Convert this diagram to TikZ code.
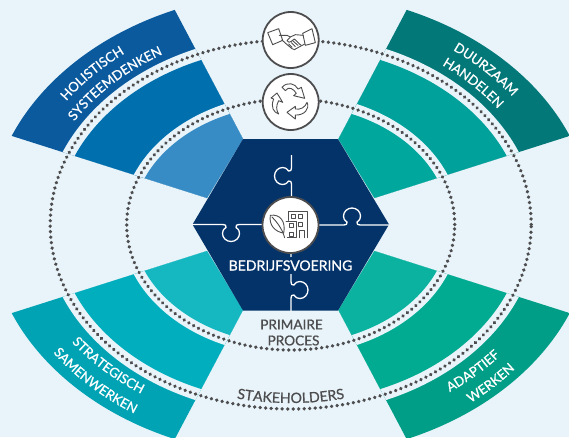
\documentclass[tikz,border=0pt]{standalone}
\usepackage{fontspec}
\setmainfont{Lato}
\newfontfamily\medf[FakeBold=0.8]{Lato}
\usetikzlibrary{decorations.text}
\definecolor{bg}{HTML}{E8F4F9}
\definecolor{hexc}{HTML}{04336A}
\definecolor{grayc}{HTML}{4D4D4F}
\definecolor{tlA}{HTML}{0B5A9E}\definecolor{tlB}{HTML}{006FAE}\definecolor{tlC}{HTML}{378CC6}
\definecolor{trA}{HTML}{027878}\definecolor{trB}{HTML}{00A19A}\definecolor{trC}{HTML}{00A79D}
\definecolor{blA}{HTML}{00A3B4}\definecolor{blB}{HTML}{00AEBD}\definecolor{blC}{HTML}{15B8C1}
\definecolor{brA}{HTML}{009E87}\definecolor{brB}{HTML}{00AB92}\definecolor{brC}{HTML}{0AB29F}
\newcommand\labfont{\medf\fontsize{13.2}{14}\selectfont\color{white}}
\newcommand\grayfont{\medf\fontsize{14.2}{15}\selectfont\color{grayc}}
\tikzset{
  dotted ring/.style={draw=grayc,line width=3.7pt,line cap=round,dash pattern=on 0.01pt off 5.5pt},
  icon circle/.style={draw=grayc,fill=white,line width=1.8pt},
  icon line/.style={draw=grayc,line width=.9pt,line join=round,line cap=round},
  puzzle/.style={draw=white,line width=1.3pt,line join=round},
  gray label/.style={text=grayc,font=\medf\fontsize{13.6}{14}\selectfont,inner sep=0pt,align=center},
}
\newcommand\sector[5]{%
  \begin{scope}[shift={(290.7,224.5)}]
  \clip ({#1*(-47.7)},{#2*(-85.5)}) -- ({#1*(-127)},{#2*(-235.5)}) -- ({#1*(-330)},{#2*(-260)})
     -- ({#1*(-317.7)},{#2*(-100.9)}) -- ({#1*(-83.7)},{#2*(-26.5)}) -- cycle;
  \fill[#3] (0,0) ellipse [x radius=301.7pt,y radius=232.4pt];
  \fill[bg] (0,0) ellipse [x radius=246.6pt,y radius=190.3pt];
  \fill[#4] (0,0) ellipse [x radius=234pt,y radius=178pt];
  \fill[bg] (0,0) ellipse [x radius=169.6pt,y radius=130.8pt];
  \fill[#5] (0,0) ellipse [x radius=158.4pt,y radius=119.7pt];
  \end{scope}}
\newcommand\arclabel[6]{%
  \path[decorate,decoration={text along path,text align=center,text={|#6|#5}}]
    ({290.7+#1*cos(#3)},{224.5+#2*sin(#3)})
    arc [start angle={-(#3)},end angle={-(#4)},x radius=#1pt,y radius=#2pt];}
\newcommand\seam[5]{%
  \draw[puzzle,shift={(#1,#2)},rotate=#3]
    (-#4,0) -- (-9,0) .. controls (-6,0) and (-4,1) .. (-5,3)
    .. controls (-8,5) and (-8.5,7) .. (-8.5,9)
    .. controls (-8.5,13.5) and (-4.5,17) .. (0,17)
    .. controls (4.5,17) and (8.5,13.5) .. (8.5,9)
    .. controls (8.5,7) and (8,5) .. (5,3)
    .. controls (4,1) and (6,0) .. (9,0) -- (#5,0);}
\begin{document}
\begin{tikzpicture}[x=1pt,y=-1pt]
\useasboundingbox (0,0) rectangle (569,437);
\fill[bg] (0,0) rectangle (569,437);
\sector{1}{1}{tlA}{tlB}{tlC}
\sector{-1}{1}{trA}{trB}{trC}
\sector{1}{-1}{blA}{blB}{blC}
\sector{-1}{-1}{brA}{brB}{brC}
\path[dotted ring] (290.7,224.5) ellipse [x radius=240.5pt,y radius=184.5pt];
\path[dotted ring] (290.7,224.5) ellipse [x radius=164pt,y radius=125.5pt];
\fill[hexc] (192.5,224.5) -- (243,139) -- (338,139) -- (389,224.5) -- (338,310.5) -- (243,310.5) -- cycle;
\seam{291.5}{176}{-90}{21}{37}
\seam{231}{224.5}{0}{39}{32}
\seam{352}{225}{180}{37}{34}
\seam{291}{290}{90}{21}{37}
\node[icon circle,circle,minimum size=56pt,inner sep=0pt] (top) at (290.7,40) {};
\node[icon circle,circle,minimum size=56pt,inner sep=0pt] (mid) at (290.7,102) {};
\node[icon circle,circle,minimum size=56pt,inner sep=0pt] (core) at (290.5,225) {};
\begin{scope}[shift={(262,12)},x=.3333pt,y=-.3333pt]
\draw[icon line] (17,62) -- (50,50) -- (62,85) -- (32,98) -- cycle;
\draw[icon line] (122,64) -- (150,50) -- (160,92) -- (130,100) -- cycle;
\draw[icon line] (52,70) -- (75,70) -- (85,75) -- (100,68) -- (124,70);
\draw[icon line] (60,84) -- (72,95) -- (90,110) .. controls (95,115) and (100,113) .. (104,109) -- (128,96);
\draw[icon line] (85,75) -- (75,86) .. controls (78,92) and (84,92) .. (88,88) -- (97,81) -- (117,100);
\draw[icon line] (80,96) -- (90,106) (88,92) -- (100,104) (93,87) -- (108,100);
\end{scope}
\begin{scope}[shift={(262,74)},x=.3333pt,y=-.3333pt]
\draw[icon line] (60,40) .. controls (75,22) and (100,28) .. (108,45) -- (118,40) -- (128,73) -- (95,65) -- (103,58) .. controls (95,45) and (80,35) .. (70,50) -- cycle;
\draw[icon line] (45,57) -- (62,85) -- (50,80) .. controls (42,95) and (42,108) .. (50,120) .. controls (35,115) and (25,100) .. (35,75) -- (27,72) -- cycle;
\draw[icon line] (75,115) -- (100,97) -- (100,105) .. controls (115,108) and (130,100) .. (135,85) .. controls (145,105) and (125,125) .. (100,123) -- (100,135) -- cycle;
\end{scope}
\begin{scope}[shift={(262,197)},x=.3333pt,y=-.3333pt]
\draw[icon line] (25,55) .. controls (55,50) and (72,75) .. (65,108) .. controls (40,105) and (20,85) .. (25,55);
\draw[icon line] (30,60) .. controls (45,75) and (55,90) .. (62,105) (62,105) -- (68,122);
\draw[icon line] (80,70) -- (80,43) -- (136,43) -- (136,122);
\draw[icon line] (72,73) -- (102,73) -- (102,122) -- (76,122);
\draw[icon line] (112,122) -- (112,100) -- (126,100) -- (126,122);
\foreach \wx/\wy in {88/52,110/52,110/76,82/80,82/106}{\draw[icon line] (\wx,\wy) rectangle ++(11,11);}
\end{scope}
\node[text=white,fill=hexc,font=\medf\fontsize{14}{15}\selectfont,inner xsep=1pt,inner ysep=3pt] (bed) at (290.5,265.5) {BEDRIJFSVOERING};
\node[gray label] (prim) at (291.5,324.5) {PRIMAIRE};
\node[gray label] (proc) at (293.5,340.5) {PROCES};
\arclabel{274}{215}{197.8}{247.8}{HOLISTISCH}{\labfont}
\arclabel{254}{197}{194.3}{254.3}{SYSTEEMDENKEN}{\labfont}
\arclabel{275}{216}{-69}{-19}{DUURZAAM}{\labfont}
\arclabel{255}{198}{-73}{-13}{HANDELEN}{\labfont}
\arclabel{268}{204}{166}{106}{STRATEGISCH}{\labfont}
\arclabel{289}{225}{165.5}{105.5}{SAMENWERKEN}{\labfont}
\arclabel{271}{207}{70.5}{20.5}{ADAPTIEF}{\labfont}
\arclabel{291}{227}{69.5}{19.5}{WERKEN}{\labfont}
\arclabel{240}{178.5}{110}{70}{STAKEHOLDERS}{\grayfont}
\end{tikzpicture}
\end{document}
